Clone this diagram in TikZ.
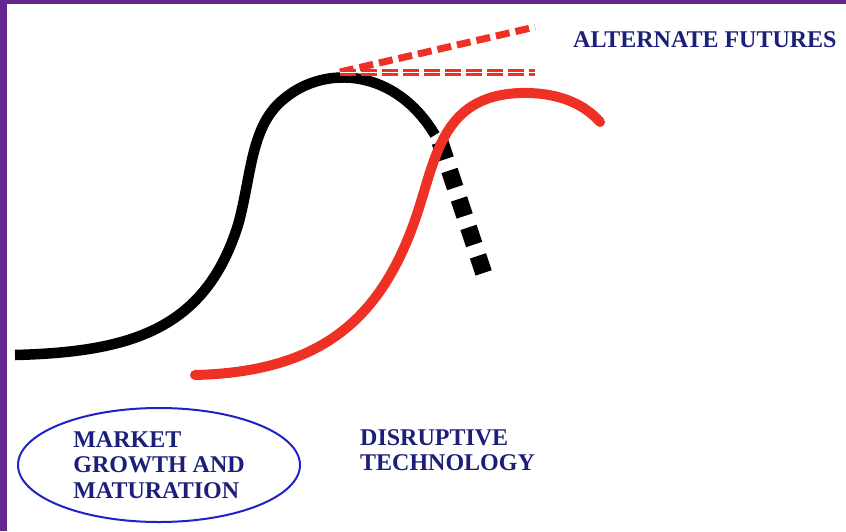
\documentclass[tikz,border=0pt]{standalone}
\usepackage{fontspec}
\setmainfont{Liberation Serif}
\usepackage{xcolor}
\usetikzlibrary{shapes.geometric}

\definecolor{framepurple}{HTML}{66268F}
\definecolor{curvered}{HTML}{EE3124}
\definecolor{labelnavy}{HTML}{1B1F7A}
\definecolor{ringblue}{HTML}{1F22C8}

\tikzset{
  label text/.style={text=labelnavy, font=\bfseries\fontsize{24}{25.5}\selectfont, align=left, inner sep=0pt},
}

\begin{document}
\begin{tikzpicture}[x=1pt,y=-1pt]
                \useasboundingbox (0,0) rectangle (846,531);
                \fill[white] (0,0) rectangle (846,531);
                \fill[framepurple] (0,0) rectangle (846,4);
                \fill[framepurple] (0,0) rectangle (7,531);
                
                % old market curve
                \draw[line width=10.5pt, line cap=butt] (15,355) .. controls (130,352) and (205,330) .. (238,225)
                        .. controls (252,175) and (250,125) .. (285,98)
                        .. controls (325,65) and (395,68) .. (435,135);
                \draw[line width=17pt, dash pattern=on 18pt off 12pt] (440,142) -- (486,280);
                
                % alternate futures
                \draw[curvered, line width=7pt, dash pattern=on 14pt off 6pt] (340,72) -- (535,27);
                \draw[curvered, line width=7pt, dash pattern=on 16pt off 5pt] (340,72) -- (535,72);
                \draw[white, line width=0.8pt] (340,72) -- (535,72);
                
                % disruptive technology curve
                \draw[curvered, line width=10pt, line cap=round] (195,375) .. controls (320,372) and (380,320) .. (415,220)
                        .. controls (436,160) and (440,96) .. (520,93)
                        .. controls (560,92) and (585,105) .. (600,122);
                
                \node[label text, anchor=west] (futures) at (573,40) {ALTERNATE FUTURES};
                \node[label text, anchor=north west] (disrupt) at (360,429) {DISRUPTIVE\\TECHNOLOGY};
                \node[label text, draw=ringblue, line width=2pt, ellipse, minimum width=282pt, minimum height=114pt] (market) at (159,465) {MARKET\\GROWTH AND\\MATURATION};
\end{tikzpicture}
\end{document}
